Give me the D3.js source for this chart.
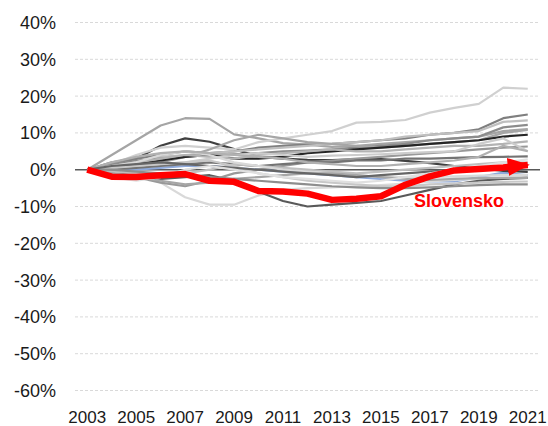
<!DOCTYPE html>
<html>
<head>
<meta charset="utf-8">
<script src="https://cdn.jsdelivr.net/npm/d3@7"></script>
<style>
  body { margin: 0; background: #fff; }
  svg text { font-family: "Liberation Sans", Arial, sans-serif; }
</style>
</head>
<body>
<div id="chart"></div>
<script>
const years = d3.range(2003, 2022);
const yTicks = [40, 30, 20, 10, 0, -10, -20, -30, -40, -50, -60];
const xTickYears = [2003, 2005, 2007, 2009, 2011, 2013, 2015, 2017, 2019, 2021];

// other countries, % change vs 2003
const grayColors = ['#8faadc', '#a5a5a5', '#404040', '#d9d9d9', '#d0d0d0', '#595959', '#7f7f7f', '#bfbfbf', '#8c8c8c',
  '#a6a6a6', '#262626', '#b3b3b3', '#999999', '#cccccc', '#737373', '#bfbfbf', '#d9d9d9', '#a6a6a6',
  '#c8c8c8', '#8e8e8e', '#b0b0b0', '#666666', '#e0e0e0'];
const grayValues = [
  [0, 0, 0, 0.5, 1, 1, 0.5, 0, -0.5, -1, -1.5, -2, -2.5, -3, -3.2, -3.2, -2, -0.8, -1.5],
  [0, 4, 8, 12, 14, 13.8, 9.6, 8.5, 7.2, 6.8, 6.2, 6.5, 7, 7.5, 8, 8.5, 9, 10.5, 11],
  [0, 1, 3, 6.5, 8.5, 7.6, 5.6, 3.5, 3, 2.7, 2.6, 2.8, 2.9, 2.4, 1.8, 1, 0.4, -0.3, -0.6],
  [0, 0.5, -1, -3.5, -7.5, -9.5, -9.5, -7, -5.5, -5, -4.8, -4.5, -4.2, -3.8, -3.2, -2.8, -2.5, -2.2, -2],
  [0, 1.5, 4, 6, 6.5, 6, 5.5, 7.5, 8.5, 9.5, 10.5, 12.8, 13, 13.5, 15.5, 16.8, 17.9, 22.3, 22],
  [0, -0.5, -1.5, -2.5, -2, -1.5, -3, -6, -8.5, -10, -9.5, -9, -8.5, -7, -5.5, -4, -3, -2.5, -2.2],
  [0, 2, 3, 4, 5, 4.5, 5, 6, 6.5, 6.8, 7, 7.5, 8, 8.5, 9.5, 10, 11, 14, 15],
  [0, 1, 2, 3.5, 4, 4.5, 5, 5.5, 6, 6.5, 7, 7.5, 8, 9, 9.5, 10, 10.5, 13, 13.4],
  [0, 1.5, 2.5, 3, 3.5, 4, 4.2, 4.5, 5, 5.2, 5.5, 6, 6.5, 7, 8, 8.5, 9, 11.5, 12.2],
  [0, 0.5, 1, 2, 3.5, 5.5, 8, 9.5, 8.5, 7.5, 7, 6.5, 6, 6.5, 7, 7.5, 8, 10, 10.8],
  [0, 0.5, 1.5, 2.5, 3.5, 4, 3, 3, 3.5, 4.5, 5, 5.5, 6, 6.5, 7, 7.5, 8, 9, 9.5],
  [0, 1, 2, 3, 4, 3.5, 3, 4, 4.5, 5, 5.5, 5, 5, 5.5, 6, 6.5, 6.5, 7, 7.7],
  [0, -1, -2, -3.5, -4.5, -3, -1, 0, 1, 2, 2.5, 3, 3.5, 4, 4.5, 5, 5.5, 6, 6.3],
  [0, 0.5, 1, 1.5, 2, 3, 4, 4.5, 4, 3.5, 3.8, 4, 4.2, 4.5, 4.8, 5, 7, 8.5, 5],
  [0, 0, 0.5, 1, 1.5, 2, 1.5, 1, 1.5, 2, 2, 2.5, 2.5, 3, 3, 3.2, 3.4, 3.5, 3.6],
  [0, -0.5, -1, -1.5, -1, 0, 1.5, 1, 0.5, 0, -0.5, -1, -0.5, 0, 0.5, 1, 1.5, 2, 1.9],
  [0, 1, 2, 4, 5, 4, 2, 1, 0, -0.5, -1, -1.5, -2, -2, -2, -1.8, -1.6, -1.5, -1.4],
  [0, -1, -2, -3, -4, -3.5, -2.5, -2, -1.5, -1, -1, -1.5, -2, -2.5, -2.8, -2.5, -2.3, -2.2, -2.2],
  [0, 0.5, 1, 1.5, 2, 2.5, 1, -1, -2, -3, -3.5, -4, -4.5, -4.5, -4, -3.8, -3.5, -3.3, -3.2],
  [0, 0, -0.5, -1, -1.5, -2, -2.5, -3, -3.5, -4, -4.5, -4.8, -5, -5, -4.8, -4.5, -4.2, -4, -4],
  [0, 2, 3.5, 4.5, 5, 4.5, 4, 3.5, 3, 2, 1.5, 1, 1, 1.5, 2, 2.5, 3.5, 6.5, 5],
  [0, 1, 1.5, 2, 1.5, 1, 0.5, 0, -0.5, -1, -1.5, -2, -1.5, -1, -0.5, 0, 0.5, 1, 1],
  [0, -2, -3, -2, 0, 1, 0, -1, -2, -2.5, -3, -3.5, -3, -2, -1, 0, 1, 2, 2.8]
];

const skLabel = 'Slovensko';
const skValues = [0, -1.9, -2.0, -1.5, -1.2, -3.0, -3.3, -5.8, -5.9, -6.5, -8.2, -7.9, -7.2, -4.1, -1.8, -0.2, 0.2, 0.6, 1.3];

const width = 548, height = 426;

const svg = d3.select('#chart')
  .append('svg')
  .attr('width', width)
  .attr('height', height);

const x = d3.scalePoint()
  .domain(years)
  .range([75, 540])
  .padding(0.5);

const y = d3.scaleLinear()
  .domain([-60, 40])
  .range([390.5, 22.5]);

// gridlines
svg.append('g')
  .selectAll('line')
  .data(yTicks.filter(d => d !== 0))
  .join('line')
  .attr('x1', 75)
  .attr('x2', 540)
  .attr('y1', d => y(d))
  .attr('y2', d => y(d))
  .attr('stroke', '#d9d9d9')
  .attr('stroke-dasharray', '3,2')
  .attr('stroke-width', 1);

svg.append('line')
  .attr('x1', 75)
  .attr('x2', 540)
  .attr('y1', y(0))
  .attr('y2', y(0))
  .attr('stroke', '#595959')
  .attr('stroke-width', 1.5);

// y labels
svg.append('g')
  .selectAll('text')
  .data(yTicks)
  .join('text')
  .attr('x', 56)
  .attr('y', d => y(d))
  .attr('dy', '0.36em')
  .attr('text-anchor', 'end')
  .attr('font-size', 18)
  .attr('fill', '#1a1a1a')
  .text(d => d + '%');

// x labels
svg.append('g')
  .selectAll('text')
  .data(xTickYears)
  .join('text')
  .attr('x', d => x(d))
  .attr('y', 423)
  .attr('text-anchor', 'middle')
  .attr('font-size', 17)
  .attr('fill', '#1a1a1a')
  .text(d => d);

const line = d3.line()
  .x((d, i) => x(years[i]))
  .y(d => y(d));

svg.append('g')
  .selectAll('path')
  .data(grayValues)
  .join('path')
  .attr('d', line)
  .attr('fill', 'none')
  .attr('stroke', (d, i) => grayColors[i])
  .attr('stroke-width', 2.2)
  .attr('stroke-linejoin', 'round');

// arrow head for Slovakia
svg.append('defs')
  .append('marker')
  .attr('id', 'arrow')
  .attr('viewBox', '0 0 22 18')
  .attr('refX', 20)
  .attr('refY', 9)
  .attr('markerUnits', 'userSpaceOnUse')
  .attr('markerWidth', 22)
  .attr('markerHeight', 18)
  .attr('orient', 'auto')
  .append('path')
  .attr('d', 'M0,0 L22,9 L0,18 Z')
  .attr('fill', '#ff0000');

svg.append('path')
  .datum(skValues)
  .attr('d', line)
  .attr('fill', 'none')
  .attr('stroke', '#ff0000')
  .attr('stroke-width', 6.5)
  .attr('stroke-linejoin', 'round')
  .attr('marker-end', 'url(#arrow)');

svg.append('text')
  .attr('x', 414)
  .attr('y', 207)
  .attr('font-size', 18)
  .attr('font-weight', 'bold')
  .attr('fill', '#ff0000')
  .text(skLabel);
</script>
</body>
</html>
